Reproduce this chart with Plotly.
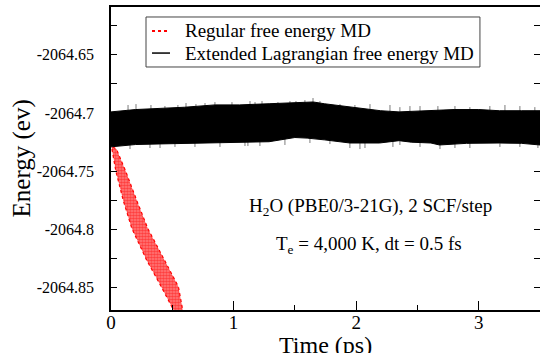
import plotly.graph_objects as go

# ---- data ----
# Extended Lagrangian MD: envelope of the fast-oscillating energy band
xl_t_top = [0.00, 0.20, 0.40, 0.60, 0.85, 1.05, 1.29, 1.54, 1.65, 1.74, 1.90, 2.03, 2.20, 2.35, 2.61, 2.80, 3.00, 3.17, 3.35, 3.50]
xl_e_top = [-2064.699, -2064.697, -2064.696, -2064.695, -2064.693, -2064.693, -2064.692, -2064.691, -2064.6905, -2064.692,
            -2064.694, -2064.696, -2064.698, -2064.699, -2064.698, -2064.697, -2064.697, -2064.698, -2064.698, -2064.698]
xl_t_bot = [0.00, 0.20, 0.40, 0.60, 0.85, 1.05, 1.29, 1.50, 1.60, 1.74, 1.95, 2.19, 2.35, 2.45, 2.61, 2.68, 2.90, 3.17, 3.35, 3.50]
xl_e_bot = [-2064.729, -2064.727, -2064.7265, -2064.726, -2064.7257, -2064.7255, -2064.7246, -2064.721, -2064.7215, -2064.723,
            -2064.7257, -2064.7257, -2064.7237, -2064.725, -2064.7257, -2064.7274, -2064.726, -2064.7257, -2064.726, -2064.7274]
# occasional spikes beyond the band
spike_up_t = [0.139, 0.204, 0.326, 0.440, 0.546, 0.612, 0.693, 0.767, 0.848, 0.987, 1.134, 1.175, 1.232, 1.362, 1.460, 1.509,
              1.582, 1.648, 1.705, 1.868, 1.990, 2.113, 2.276, 2.357, 2.439, 2.521, 2.667, 2.806, 2.928, 3.091, 3.214, 3.336, 3.458]
spike_up_e = [-2064.6931, -2064.6923, -2064.6931, -2064.6940, -2064.6931, -2064.6914, -2064.6923, -2064.6914, -2064.6906,
              -2064.6906, -2064.6897, -2064.6906, -2064.6897, -2064.6906, -2064.6897, -2064.6897, -2064.6889, -2064.6871,
              -2064.6897, -2064.6923, -2064.6931, -2064.6923, -2064.6931, -2064.6949, -2064.6940, -2064.6940, -2064.6940,
              -2064.6940, -2064.6949, -2064.6940, -2064.6931, -2064.6940, -2064.6949]
spike_dn_t = [0.155, 0.318, 0.400, 0.522, 0.685, 0.889, 1.093, 1.117, 1.215, 1.419, 1.623, 1.786, 1.949, 2.031, 2.072, 2.300,
              2.357, 2.521, 2.684, 2.806, 2.928, 3.173, 3.336, 3.483]
spike_dn_e = [-2064.7309, -2064.7300, -2064.7300, -2064.7291, -2064.7291, -2064.7291, -2064.7283, -2064.7283, -2064.7283,
              -2064.7274, -2064.7257, -2064.7266, -2064.7300, -2064.7309, -2064.7300, -2064.7291, -2064.7274, -2064.7291,
              -2064.7309, -2064.7300, -2064.7300, -2064.7291, -2064.7291, -2064.7300]
band_mid = -2064.712

# Regular MD: drifting band (upper and lower edges)
reg_t_top = [0.000, 0.006, 0.040, 0.100, 0.170, 0.290, 0.410, 0.510, 0.550]
reg_e_top = [-2064.700, -2064.730, -2064.750, -2064.775, -2064.799, -2064.826, -2064.849, -2064.869, -2064.880]
reg_t_bot = [0.000, 0.045, 0.120, 0.210, 0.300, 0.430, 0.550, 0.585, 0.610]
reg_e_bot = [-2064.728, -2064.731, -2064.750, -2064.775, -2064.799, -2064.825, -2064.849, -2064.869, -2064.880]

series_names = ["Regular free energy MD", "Extended Lagrangian free energy MD"]
x_ticks = [0, 1, 2, 3]
y_ticks = [-2064.85, -2064.8, -2064.75, -2064.7, -2064.65]
y_tick_text = ["-2064.85", "-2064.8", "-2064.75", "-2064.7", "-2064.65"]

FONT = "Liberation Serif, Times New Roman, serif"
fig = go.Figure()

# regular MD band (red, speckled)
fig.add_trace(go.Scatter(
    x=reg_t_top + reg_t_bot[::-1], y=reg_e_top + reg_e_bot[::-1], name=series_names[0],
    mode="lines", fill="toself", line=dict(color="red", width=1.2, dash="dot"),
    fillcolor="rgba(255,0,0,0.7)",
    fillpattern=dict(shape=".", fgcolor="#ff0000", bgcolor="rgba(255,40,40,0.6)", size=3, solidity=0.6),
    showlegend=False, hoverinfo="skip"))

# spikes (drawn below the band so only the tips show)
sx, sy = [], []
for t, e in zip(spike_up_t + spike_dn_t, spike_up_e + spike_dn_e):
    sx += [t, t, None]
    sy += [band_mid, e, None]
fig.add_trace(go.Scatter(x=sx, y=sy, mode="lines", line=dict(color="#444", width=0.7),
                         showlegend=False, hoverinfo="skip"))

# extended Lagrangian band (black)
fig.add_trace(go.Scatter(x=xl_t_bot, y=xl_e_bot, mode="lines", line=dict(color="black", width=1),
                         showlegend=False, hoverinfo="skip"))
fig.add_trace(go.Scatter(x=xl_t_top, y=xl_e_top, mode="lines", line=dict(color="black", width=1),
                         name=series_names[1], fill="tonexty", fillcolor="black", showlegend=False, hoverinfo="skip"))

# right-side ticks
fig.add_trace(go.Scatter(x=[None], y=[None], yaxis="y2", showlegend=False))

# legend box (drawn by hand to match the compact original)
lx0, lx1, ly0, ly1 = 0.0816, 0.860, 0.802, 0.967
row_y = [0.921, 0.848]
shapes = [
    dict(type="rect", xref="paper", yref="paper", x0=lx0, x1=lx1, y0=ly0, y1=ly1,
         line=dict(color="#444", width=1), fillcolor="white", layer="above"),
    dict(type="line", xref="paper", yref="paper", x0=0.0956, x1=0.1375, y0=row_y[0], y1=row_y[0],
         line=dict(color="red", width=2, dash="dot"), layer="above"),
    dict(type="line", xref="paper", yref="paper", x0=0.0956, x1=0.1375, y0=row_y[1], y1=row_y[1],
         line=dict(color="black", width=1.5), layer="above"),
]

annotations = [
    dict(text=series_names[0], x=0.168, y=row_y[0], xref="paper", yref="paper", xanchor="left", yanchor="middle",
         showarrow=False, font=dict(size=19, family=FONT)),
    dict(text=series_names[1], x=0.168, y=row_y[1], xref="paper", yref="paper", xanchor="left", yanchor="middle",
         showarrow=False, font=dict(size=19, family=FONT)),
    dict(text="Time (ps)", x=0.5, y=-0.116, xref="paper", yref="paper", xanchor="center", yanchor="middle",
         showarrow=False, font=dict(size=24, family=FONT)),
    dict(text="Energy (ev)", x=-0.2075, y=0.5, xref="paper", yref="paper", xanchor="center", yanchor="middle",
         textangle=-90, showarrow=False, font=dict(size=25, family=FONT)),
    dict(text="H<sub>2</sub>O (PBE0/3-21G), 2 SCF/step", x=0.604, y=0.34, xref="paper", yref="paper",
         xanchor="center", yanchor="middle", showarrow=False, font=dict(size=19, family=FONT)),
    dict(text="T<sub>e</sub> = 4,000 K, dt = 0.5 fs", x=0.601, y=0.216, xref="paper", yref="paper",
         xanchor="center", yanchor="middle", showarrow=False, font=dict(size=19, family=FONT)),
]

fig.update_layout(
    width=540, height=353,
    margin=dict(l=111, r=0, t=7, b=43),
    paper_bgcolor="white", plot_bgcolor="white",
    font=dict(family=FONT, color="black", size=18),
    showlegend=False,
    xaxis=dict(range=[0, 3.5], tickvals=x_ticks, ticks="inside", ticklen=9, tickwidth=1, tickcolor="black",
               minor=dict(dtick=0.5, ticks="inside", ticklen=5, tickcolor="black"),
               showline=True, linecolor="black", linewidth=1.5, mirror=True, showgrid=False, zeroline=False,
               ticklabelstandoff=-6, tickfont=dict(size=19, family=FONT)),
    yaxis=dict(range=[-2064.869, -2064.609], tickvals=y_ticks, ticktext=y_tick_text, ticks="inside",
               ticklen=6, tickwidth=1, tickcolor="black",
               minor=dict(dtick=0.025, ticks="inside", ticklen=6, tickcolor="black"),
               showline=True, linecolor="black", linewidth=1.5, showgrid=False, zeroline=False,
               ticklabelstandoff=12, tickfont=dict(size=16, family=FONT)),
    yaxis2=dict(overlaying="y", side="right", range=[-2064.869, -2064.609], tickvals=y_ticks,
                showticklabels=False, ticks="inside", ticklen=6, tickcolor="black",
                minor=dict(dtick=0.025, ticks="inside", ticklen=6, tickcolor="black"),
                showline=False, showgrid=False, zeroline=False),
    shapes=shapes,
    annotations=annotations,
)

fig.write_html("out.html", config={"displayModeBar": False},
               post_script="document.body.style.margin='0px';")
